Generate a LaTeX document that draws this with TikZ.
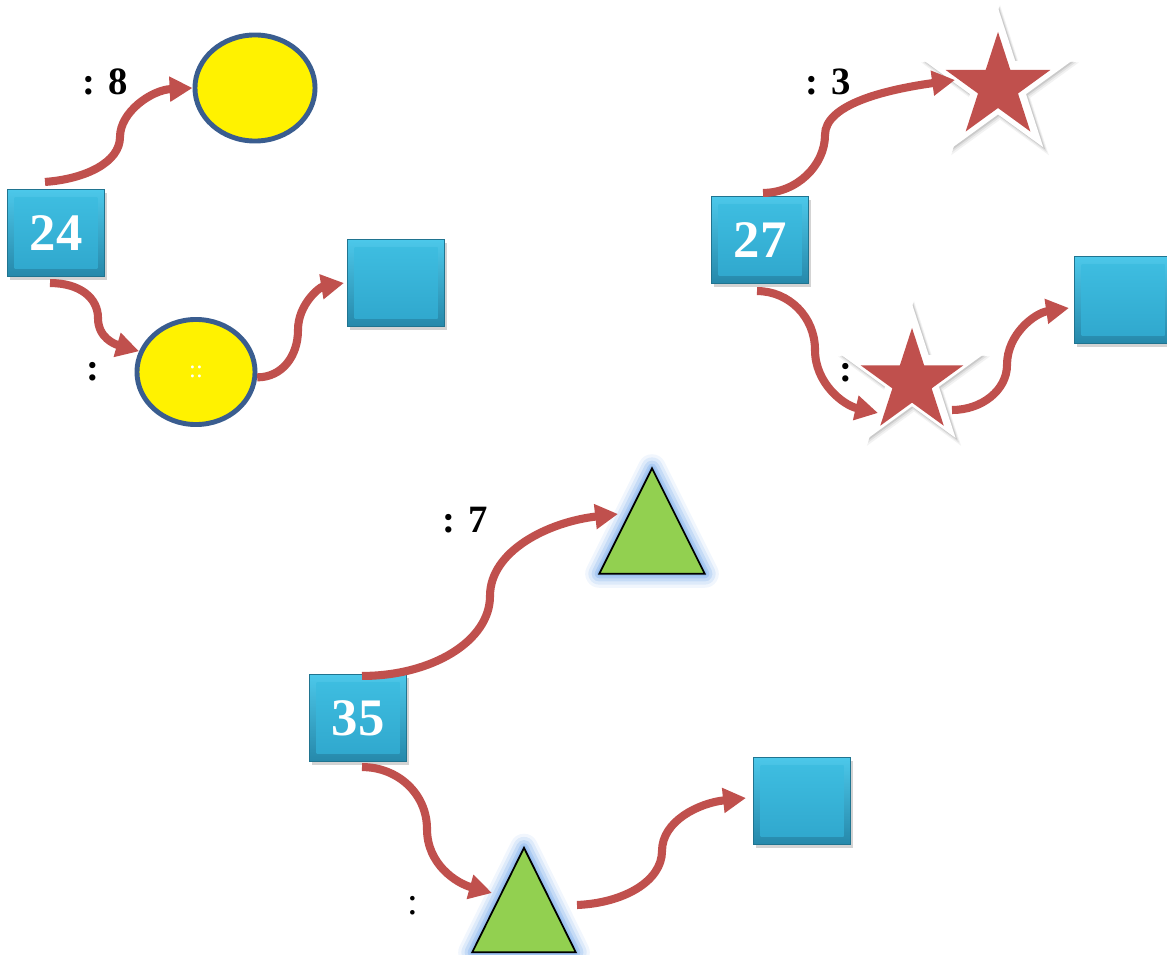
\documentclass[tikz,border=0pt]{standalone}
\usepackage{fontspec}
\setmainfont{Liberation Serif}
\usetikzlibrary{shapes.geometric,arrows.meta,shadows,calc}
\definecolor{arrowred}{HTML}{C0504D}
\definecolor{boxtop}{HTML}{4CC8EA}
\definecolor{boxbot}{HTML}{2688AA}
\definecolor{boxmidtop}{HTML}{3FBFE2}
\definecolor{boxmidbot}{HTML}{2FA6CC}
\definecolor{circline}{HTML}{3A5D8F}
\definecolor{trigreen}{HTML}{92D050}
\definecolor{glowblue}{HTML}{8DB8EE}
\definecolor{starred}{HTML}{C0504D}
\tikzset{
 conn/.style={draw=arrowred, line width=2.3pt, -{Triangle[length=6.5pt,width=6.8pt]}},
 boxsty/.style={rectangle, minimum width=0.97cm, minimum height=0.87cm, inner sep=0,
   top color=boxtop, bottom color=boxbot, draw=boxbot!85!black, line width=0.3pt,
   drop shadow={shadow xshift=0.8pt, shadow yshift=-1pt, opacity=0.35},
   path picture={\shade[top color=boxmidtop,bottom color=boxmidbot]
     ([shift={(2pt,-2.3pt)}]path picture bounding box.north west) rectangle
     ([shift={(-2pt,2.3pt)}]path picture bounding box.south east);},
   text=white, font=\fontsize{15}{18}\selectfont\bfseries},
 circsty/.style={ellipse, fill=yellow, draw=circline, line width=1.4pt, inner sep=0},
 starbase/.style={star, star points=5, star point ratio=2.618, inner sep=0},
 gstar/.style={starbase, fill=black},
 wstar/.style={starbase, fill=white},
 rstar/.style={starbase, fill=starred},
 tristy/.style={rectangle, inner sep=0},
 lab/.style={font=\fontsize{11}{13}\selectfont\bfseries, inner sep=0},
 labreg/.style={font=\fontsize{11}{13}\selectfont, inner sep=0},
}
\newcommand\drawtri[1]{%
  \draw[glowblue, line width=8pt, opacity=.12, line join=round] (#1.north) -- (#1.south west) -- (#1.south east) -- cycle;
  \draw[glowblue, line width=6.2pt, opacity=.2, line join=round] (#1.north) -- (#1.south west) -- (#1.south east) -- cycle;
  \draw[glowblue, line width=4.4pt, opacity=.3, line join=round] (#1.north) -- (#1.south west) -- (#1.south east) -- cycle;
  \draw[glowblue, line width=2.6pt, opacity=.45, line join=round] (#1.north) -- (#1.south west) -- (#1.south east) -- cycle;
  \draw[glowblue, line width=1.4pt, opacity=.6, line join=round] (#1.north) -- (#1.south west) -- (#1.south east) -- cycle;
  \draw[fill=trigreen, draw=black, line width=0.5pt] (#1.north) -- (#1.south west) -- (#1.south east) -- cycle;}
\begin{document}
\begin{tikzpicture}[x=0.01cm,y=-0.01cm]
\useasboundingbox (0,0) rectangle (1167,955);

% ---------- group 1 ----------
\node[boxsty] (b24) at (56,233) {24};
\node[circsty, minimum width=1.2cm, minimum height=1.06cm] (c1) at (255,88) {};
\node[circsty, minimum width=1.18cm, minimum height=1.05cm] (c2) at (196,372)
  {\fontsize{7}{8}\selectfont\color{white}::};
\node[boxsty] (bx1) at (396,283) {};
\node[lab] (l1) at (105,82) {: 8};
\node[lab] (l2) at (93,372) {:};

\draw[conn] ($(b24.north)+(-11,-7)$) .. controls +(41,-3) and +(0,25) .. (120,137)
  .. controls +(0,-25) and +(-41,2) .. (c1.west);
\draw[conn] ($(b24.south)+(-6,6)$) .. controls +(30,0) and +(0,-20) .. (98,318)
  .. controls +(0,20) and +(-24,-7) .. (c2.160);
\draw[conn] (c2.355) .. controls +(25,0) and +(0,26) .. (298,330)
  .. controls +(0,-26) and +(-24,4) .. ($(bx1.west)+(-3,0)$);

% ---------- group 2 ----------
\node[boxsty] (b27) at (760,240) {27};
\node[gstar, minimum size=1.66cm, opacity=.05] (s1g1) at (1000,88) {};
\node[gstar, minimum size=1.61cm, opacity=.07] (s1g2) at (999.5,87) {};
\node[gstar, minimum size=1.57cm, opacity=.1] (s1g3) at (999,86) {};
\node[wstar, minimum size=1.54cm] (s1) at (998,85) {};
\node[rstar, minimum size=1.1cm] (s1r) at (998,87) {};
\node[lab] (l3) at (828,82) {: 3};
\node[lab] (l4) at (846,373) {:};
\node[gstar, minimum size=1.6cm, opacity=.05] (s2g1) at (914,381) {};
\node[gstar, minimum size=1.55cm, opacity=.07] (s2g2) at (913.5,380) {};
\node[gstar, minimum size=1.51cm, opacity=.1] (s2g3) at (913,379) {};
\node[wstar, minimum size=1.48cm] (s2) at (912,378) {};
\node[rstar, minimum size=1.08cm] (s2r) at (912,382) {};
\node[boxsty] (bx2) at (1123,300) {};

\draw[conn] ($(b27.north)+(3,-3)$) .. controls +(34,0) and +(0,30) .. (825,135)
  .. controls +(0,-30) and +(-72,10) .. ($(s1.center)+(-43,-5)$);
\draw[conn] ($(b27.south)+(-3,7)$) .. controls +(32,0) and +(0,-33) .. (815,350)
  .. controls +(0,33) and +(-35,-8) .. ($(s2.center)+(-34,35)$);
\draw[conn] ($(s2.center)+(40,32)$) .. controls +(30,0) and +(0,25) .. (1007,365)
  .. controls +(0,-31) and +(-34,5) .. ($(bx2.west)+(-5,8)$);

% ---------- group 3 ----------
\node[boxsty] (b35) at (358,718) {35};
\node[tristy, minimum width=1.04cm, minimum height=1.04cm] (t1) at (652,521) {};
\drawtri{t1}
\node[tristy, minimum width=1.02cm, minimum height=1.03cm] (t2) at (524,900) {};
\drawtri{t2}
\node[boxsty] (bx3) at (802,801) {};
\node[lab] (l5) at (465,520) {: 7};
\node[labreg] (l6) at (413,906) {:};

\draw[conn] ($(b35.north)+(4,2)$) .. controls +(70,0) and +(0,45) .. (490,596)
  .. controls +(0,-45) and +(-70,8) .. ($(t1.center)+(-34,-7)$);
\draw[conn] ($(b35.south)+(4,5)$) .. controls +(36,0) and +(0,-35) .. (427,829)
  .. controls +(0,35) and +(-36,-10) .. ($(t2.center)+(-32,-7)$);
\draw[conn] ($(t2.center)+(53,5)$) .. controls +(47,-2) and +(0,30) .. (662,851)
  .. controls +(0,-30) and +(-47,5) .. ($(bx3.west)+(-7,-3)$);
\end{tikzpicture}
\end{document}
